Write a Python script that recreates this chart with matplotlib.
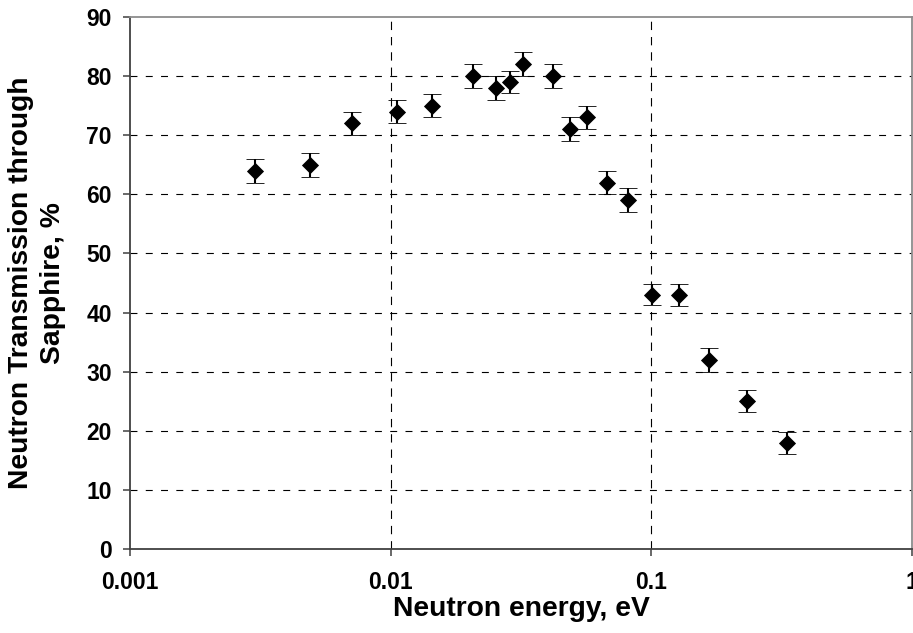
import matplotlib
matplotlib.use("Agg")
import matplotlib.pyplot as plt
from matplotlib.ticker import NullLocator

plt.rcParams["font.family"] = ["Liberation Sans", "DejaVu Sans"]
plt.rcParams["font.weight"] = "bold"
plt.rcParams["lines.scale_dashes"] = False

# neutron energy (eV) vs. transmission through sapphire (%)
energy_ev = [0.00303, 0.0049, 0.00709, 0.01055, 0.01436, 0.02063, 0.02535,
             0.0287, 0.0321, 0.0418, 0.0487, 0.0568, 0.0674, 0.0815,
             0.1007, 0.1276, 0.1667, 0.2321, 0.332]
transmission = [64, 65, 72, 74, 75, 80, 78, 79, 82, 80, 71, 73, 62, 59,
                43, 43, 32, 25, 18]
trans_err = [2.0, 2.0, 1.9, 2.0, 2.0, 2.0, 2.0, 1.85, 2.0, 2.0, 2.0, 2.0,
             2.0, 2.0, 1.8, 1.85, 2.0, 1.9, 1.85]

x_ticks = [0.001, 0.01, 0.1, 1]
x_tick_labels = ["0.001", "0.01", "0.1", "1"]
y_ticks = [0, 10, 20, 30, 40, 50, 60, 70, 80, 90]

W, H = 913, 633
fig = plt.figure(figsize=(W / 100, H / 100), dpi=100)
ax = fig.add_axes([130 / W, 1 - 549 / H, (912 - 130) / W, (549 - 17) / H])

ax.set_xscale("log")
ax.set_xlim(0.001, 1)
ax.set_ylim(0, 90)

# dashed grid, no line at the frame edges
for v in y_ticks[1:-1]:
    ax.axhline(v, color="black", lw=0.8, dashes=(5, 6), zorder=1)
for v in x_ticks[1:-1]:
    ax.axvline(v, color="black", lw=0.8, dashes=(6, 5), zorder=1)

ax.errorbar(energy_ev, transmission, yerr=trans_err, fmt="D", color="black",
            markersize=7.8, markeredgewidth=0.6, ecolor="black",
            elinewidth=1.5, capsize=6.2, capthick=1.5, zorder=3)

ax.set_xticks(x_ticks)
ax.set_xticklabels(x_tick_labels)
ax.xaxis.set_minor_locator(NullLocator())
ax.set_yticks(y_ticks)
ax.tick_params(axis="both", direction="out", length=5, width=1.1,
               color="#404040", labelsize=16.5)
ax.tick_params(axis="x", pad=10.5)
ax.tick_params(axis="y", pad=8)
for lbl in ax.get_xticklabels() + ax.get_yticklabels():
    lbl.set_fontweight("bold")

for side in ("left", "bottom"):
    ax.spines[side].set_color("#404040")
    ax.spines[side].set_linewidth(1.3)
for side in ("top", "right"):
    ax.spines[side].set_color("#8c8c8c")
    ax.spines[side].set_linewidth(1.3)

ax.set_xlabel("Neutron energy, eV", fontsize=20.3, fontweight="bold", labelpad=2)
fig.text(37 / W, 1 - 283 / H, "Neutron Transmission through\nSapphire, %",
         rotation=90, ha="center", va="center", multialignment="center",
         fontsize=20.3, fontweight="bold", linespacing=1.3)

fig.savefig("out.png", dpi=100)
